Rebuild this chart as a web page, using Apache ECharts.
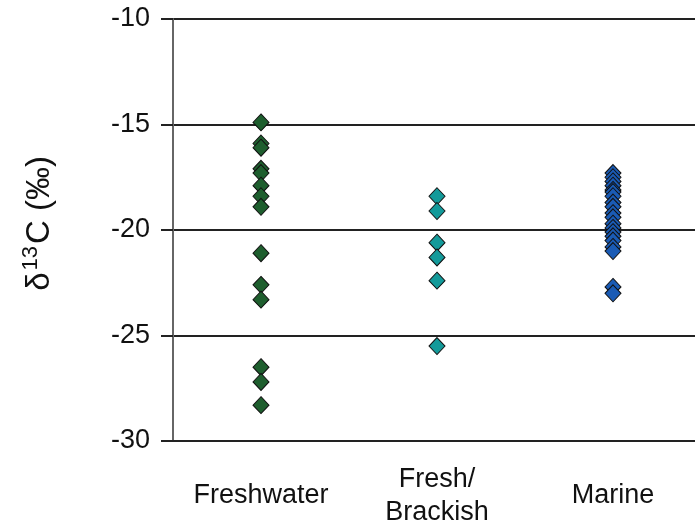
<!DOCTYPE html>
<html><head><meta charset="utf-8">
<script src="https://cdn.jsdelivr.net/npm/echarts@6/dist/echarts.min.js"></script>
<style>html,body{margin:0;padding:0;background:#fff}#c{width:695px;height:525px}</style>
</head><body><div id="c"></div>
<script>
var categories = ['Freshwater', 'Fresh/\nBrackish', 'Marine'];
var yTicks = [-30, -25, -20, -15, -10];
var freshwater = [-14.9, -15.9, -16.1, -17.1, -17.3, -17.9, -18.4, -18.9, -21.1, -22.6, -23.3, -26.5, -27.2, -28.3];
var freshBrackish = [-18.4, -19.1, -20.6, -21.3, -22.4, -25.5];
var marine = [-17.3, -17.5, -17.7, -17.9, -18.1, -18.2, -18.4, -18.7, -18.9, -19.2, -19.4, -19.7, -19.9, -20.1, -20.3, -20.5, -20.8, -21.0, -22.7, -23.0];
var colors = ['#1E5E2E', '#139A9A', '#1A5BB5'];

var FONT = 'Liberation Sans, Arial, sans-serif';
function pts(ci, arr){ return arr.map(function(v){ return [categories[ci], v]; }); }
function ser(ci, arr){
  return {type:'scatter', data: pts(ci, arr), symbol:'diamond', symbolSize:[16,17],
    itemStyle:{color: colors[ci], borderColor:'#111', borderWidth:1, opacity:1}, z: 3};
}
var chart = echarts.init(document.getElementById('c'), null, {renderer:'canvas'});
chart.setOption({
  animation:false,
  grid:{left:173, top:19, width:528, bottom:84, containLabel:false, outerBoundsMode:'none'},
  xAxis:{type:'category', data:categories, boundaryGap:true,
    axisLine:{show:true, lineStyle:{color:'#222', width:2}},
    axisTick:{show:false},
    axisLabel:{color:'#111', fontFamily:FONT, fontSize:27, margin:55, verticalAlign:'middle', lineHeight:33, interval:0},
    splitLine:{show:false}},
  yAxis:{type:'value', min:yTicks[0], max:yTicks[yTicks.length-1], interval:5,
    axisLine:{show:true, lineStyle:{color:'#666', width:2}},
    axisTick:{show:true, length:12, lineStyle:{color:'#222', width:2}},
    axisLabel:{color:'#111', fontFamily:FONT, fontSize:27, margin:23},
    splitLine:{show:true, lineStyle:{color:'#222', width:2}}},
  graphic:[{type:'text', left:20, top:156, rotation:Math.PI/2, originX:0, originY:0,
    style:{text:'{d|δ}{s|13}{d|C (‰)}', x:0, y:0, align:'center', verticalAlign:'middle',
      rich:{d:{fontFamily:FONT, fontSize:33, fill:'#111', verticalAlign:'bottom'},
            s:{fontFamily:FONT, fontSize:22, fill:'#111', verticalAlign:'top', padding:[0,2,14,2]}}}}],
  series:[ser(0, freshwater), ser(1, freshBrackish), ser(2, marine)]
});
</script></body></html>
